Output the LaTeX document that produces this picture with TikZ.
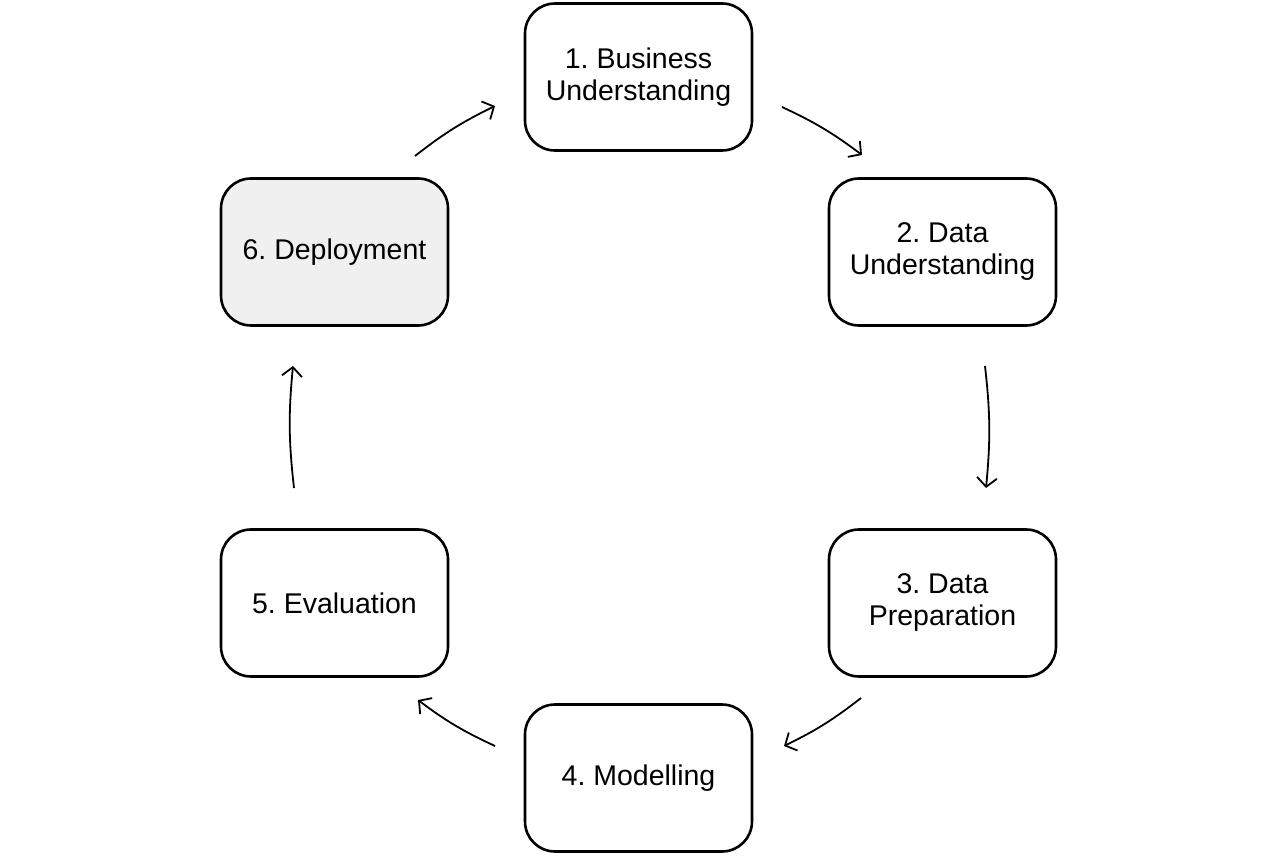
\documentclass[tikz,border=0pt]{standalone}
\usepackage{fontspec}
\setmainfont{Liberation Sans}
\usetikzlibrary{arrows.meta}
\frenchspacing
\begin{document}
\begin{tikzpicture}[x=1pt,y=-1pt,
  phase/.style={draw=black, line width=2.6pt, rounded corners=30pt,
    minimum width=227pt, minimum height=147pt, align=center,
    font=\fontsize{28.5}{32}\selectfont, fill=white},
  flow/.style={line width=1.8pt, -{Straight Barb[length=9pt,width=20pt,line width=1.8pt]},
    bend left=6}]
  \useasboundingbox (0,0) rectangle (1280,858);

  % process phases
  \node[phase] (n1) at (638.5,77) {1. Business\\Understanding};
  \node[phase] (n2) at (942.5,252) {2. Data\\Understanding};
  \node[phase] (n3) at (942.5,603) {3. Data\\Preparation};
  \node[phase] (n4) at (638.5,778) {4. Modelling};
  \node[phase] (n5) at (334.5,603) {5. Evaluation};
  \node[phase, fill=black!6] (n6) at (334.5,252) {6. Deployment};

  % end points of the connecting arrows
  \coordinate (a61) at (415,156);  \coordinate (b61) at (495,106);
  \coordinate (a12) at (782,107);  \coordinate (b12) at (862,155);
  \coordinate (a23) at (985,366);  \coordinate (b23) at (986,488);
  \coordinate (a34) at (861,698);  \coordinate (b34) at (784,746);
  \coordinate (a45) at (495,746);  \coordinate (b45) at (418,700);
  \coordinate (a56) at (294,488);  \coordinate (b56) at (293,366);

  \draw[flow] (a61) to (b61);
  \draw[flow] (a12) to (b12);
  \draw[flow] (a23) to (b23);
  \draw[flow] (a34) to (b34);
  \draw[flow] (a45) to (b45);
  \draw[flow] (a56) to (b56);
\end{tikzpicture}
\end{document}
